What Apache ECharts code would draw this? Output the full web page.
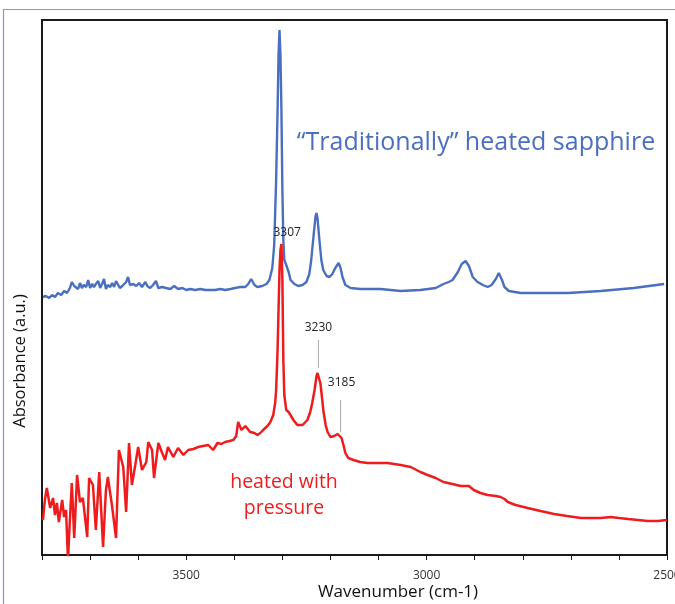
<!DOCTYPE html>
<html>
<head>
<meta charset="utf-8">
<script src="https://cdn.jsdelivr.net/npm/echarts@6/dist/echarts.min.js"></script>
<style>
html,body{margin:0;padding:0;background:#fff;overflow:hidden;}
#chart{width:675px;height:604px;}
</style>
</head>
<body>
<div id="chart"></div>
<script>
// ---- data (wavenumber, cm-1 / absorbance, a.u.) ----
const blueWn = [
 3798,3792,3785,3779,3773,3767,3760,3754,3748,3742,
 3738,3733,3729,3725,3721,3717,3713,3708,3704,3700,
 3696,3692,3688,3683,3679,3675,3671,3667,3663,3658,
 3654,3650,3646,3642,3638,3633,3629,3625,3621,3617,
 3610,3604,3598,3592,3585,3581,3575,3569,3563,3558,
 3550,3542,3533,3525,3517,3508,3500,3492,3481,3471,
 3460,3450,3440,3429,3419,3408,3398,3388,3377,3371,
 3365,3358,3352,3342,3333,3327,3321,3317,3313,3310,
 3308,3306,3304,3302,3300,3298,3296,3292,3287,3283,
 3275,3267,3258,3250,3244,3240,3235,3231,3229,3227,
 3223,3219,3215,3208,3202,3196,3190,3183,3179,3175,
 3169,3158,3138,3096,3054,3013,2981,2965,2954,2946,
 2935,2927,2919,2912,2904,2894,2883,2873,2865,2856,
 2850,2844,2838,2829,2804,2763,2706,2638,2569,2506
];
const blueAbs = [
 2.58,2.59,2.57,2.60,2.58,2.62,2.60,2.64,2.62,2.67,
 2.73,2.69,2.71,2.66,2.72,2.67,2.70,2.68,2.75,2.67,
 2.71,2.68,2.71,2.74,2.67,2.71,2.76,2.66,2.70,2.68,
 2.72,2.68,2.74,2.76,2.67,2.69,2.68,2.73,2.78,2.70,
 2.71,2.69,2.72,2.68,2.73,2.69,2.67,2.70,2.74,2.67,
 2.68,2.67,2.66,2.69,2.66,2.67,2.65,2.66,2.65,2.66,
 2.65,2.65,2.65,2.66,2.65,2.66,2.67,2.68,2.68,2.71,
 2.76,2.70,2.68,2.69,2.71,2.75,2.87,3.10,3.75,4.45,
 5.00,5.25,5.00,4.45,3.65,3.15,2.95,2.90,2.83,2.75,
 2.71,2.69,2.70,2.73,2.81,2.95,3.20,3.39,3.42,3.37,
 3.15,2.95,2.85,2.79,2.78,2.81,2.87,2.92,2.87,2.78,
 2.70,2.67,2.66,2.66,2.64,2.65,2.67,2.71,2.73,2.75,
 2.83,2.91,2.94,2.89,2.78,2.73,2.70,2.68,2.70,2.76,
 2.82,2.76,2.68,2.64,2.62,2.62,2.62,2.64,2.67,2.71
];
const redWn = [
 3798,3794,3790,3783,3777,3773,3769,3765,3758,3754,
 3750,3746,3742,3738,3733,3727,3721,3715,3706,3702,
 3694,3688,3681,3673,3667,3663,3654,3646,3640,3631,
 3625,3619,3613,3606,3600,3592,3583,3579,3571,3567,
 3558,3550,3544,3538,3527,3517,3506,3496,3485,3475,
 3465,3454,3444,3435,3427,3419,3410,3402,3396,3392,
 3385,3381,3377,3373,3367,3358,3352,3346,3340,3331,
 3325,3319,3315,3313,3310,3308,3306,3304,3302,3300,
 3298,3296,3292,3287,3283,3277,3269,3258,3248,3242,
 3238,3233,3229,3227,3225,3221,3217,3215,3210,3206,
 3200,3192,3185,3181,3177,3173,3169,3163,3152,3138,
 3123,3096,3081,3054,3033,3013,2998,2981,2965,2946,
 2929,2919,2912,2902,2888,2873,2856,2846,2838,2831,
 2815,2790,2763,2735,2708,2679,2658,2638,2617,2600,
 2581,2560,2540,2519,2500
];
const redAbs = [
 0.35,0.55,0.67,0.47,0.57,0.40,0.52,0.33,0.55,0.38,
 0.45,-0.05,0.35,0.72,0.17,0.80,0.53,0.57,0.18,0.77,
 0.70,0.25,0.83,0.08,0.65,0.78,0.48,0.17,1.05,0.88,
 0.43,1.12,0.70,0.90,1.08,0.85,0.93,1.13,1.05,0.77,
 1.12,1.02,0.95,1.08,0.98,1.07,1.00,1.05,1.06,1.08,
 1.09,1.10,1.05,1.12,1.11,1.13,1.14,1.15,1.19,1.33,
 1.25,1.23,1.29,1.28,1.23,1.22,1.20,1.22,1.25,1.29,
 1.33,1.40,1.52,1.65,2.05,2.45,2.85,3.05,3.11,2.75,
 1.95,1.60,1.45,1.43,1.41,1.35,1.30,1.30,1.35,1.43,
 1.52,1.65,1.79,1.82,1.80,1.72,1.55,1.45,1.30,1.23,
 1.18,1.19,1.21,1.21,1.17,1.10,1.02,0.97,0.95,0.93,
 0.92,0.92,0.92,0.90,0.88,0.83,0.80,0.77,0.73,0.71,
 0.69,0.69,0.69,0.65,0.62,0.60,0.59,0.58,0.56,0.53,
 0.50,0.47,0.44,0.41,0.39,0.37,0.37,0.37,0.38,0.37,
 0.36,0.35,0.34,0.34,0.35
];
const xTickLabels = [3500, 3000, 2500];
const peakLabels = [
  {text: '3307', wn: 3290, abs: 3.22},
  {text: '3230', wn: 3225, abs: 2.27},
  {text: '3185', wn: 3177, abs: 1.72}
];
const peakLines = [
  {wn: 3225, from: 2.15, to: 1.87},
  {wn: 3179, from: 1.55, to: 1.23}
];

const FONT = '"Open Sans", sans-serif';
const chart = echarts.init(document.getElementById('chart'), null, {renderer: 'canvas'});

const option = {
  backgroundColor: '#ffffff',
  animation: false,
  grid: {left: 42, right: 8, top: 20, bottom: 49, show: true, borderColor: '#1a1a1a', borderWidth: 2,
         backgroundColor: 'transparent', containLabel: false, outerBoundsMode: 'none'},
  xAxis: {
    type: 'value', inverse: true, min: 2500, max: 3800, interval: 100,
    axisLine: {show: true, onZero: false, lineStyle: {color: '#1a1a1a', width: 2}},
    axisTick: {show: true, inside: false, length: 5, lineStyle: {color: '#1a1a1a', width: 1}},
    axisLabel: {
      margin: 15, color: '#333', fontSize: 12, fontFamily: FONT, hideOverlap: false,
      formatter: v => xTickLabels.indexOf(v) >= 0 ? String(v) : ''
    },
    splitLine: {show: false}
  },
  yAxis: {
    type: 'value', min: 0, max: 5.35,
    axisLine: {show: false}, axisTick: {show: false}, axisLabel: {show: false}, splitLine: {show: false}
  },
  series: [
    {
      type: 'line', name: 'traditional', showSymbol: false, symbol: 'none', clip: true,
      lineStyle: {color: '#4a6fc0', width: 2.4},
      data: blueWn.map((w, i) => [w, blueAbs[i]])
    },
    {
      type: 'line', name: 'pressure', showSymbol: false, symbol: 'none', clip: true,
      lineStyle: {color: '#ee1c1c', width: 2.5},
      data: redWn.map((w, i) => [w, redAbs[i]])
    }
  ]
};
chart.setOption(option);

const px = (w, a) => chart.convertToPixel({gridIndex: 0}, [w, a]);
const graphics = [
  // outer frame
  {type: 'line', shape: {x1: 3, y1: 9.5, x2: 675, y2: 9.5}, style: {stroke: '#8a94cc', lineWidth: 1.2}},
  {type: 'line', shape: {x1: 3.5, y1: 9, x2: 3.5, y2: 604}, style: {stroke: '#8a94cc', lineWidth: 1.2}},
  // axis titles
  {type: 'text', x: 20, y: 361, rotation: Math.PI / 2,
   style: {text: 'Absorbance (a.u.)', font: '16.5px ' + FONT, fill: '#111', align: 'center', verticalAlign: 'middle'}},
  {type: 'text', x: 398, y: 592,
   style: {text: 'Wavenumber (cm-1)', font: '17px ' + FONT, fill: '#111', align: 'center', verticalAlign: 'middle'}},
  // series labels
  {type: 'text', x: 476, y: 143,
   style: {text: '\u201CTraditionally\u201D heated sapphire', font: '25px ' + FONT, fill: '#4a6fc0', align: 'center', verticalAlign: 'middle'}},
  {type: 'text', x: 284, y: 482,
   style: {text: 'heated with', font: '19.5px ' + FONT, fill: '#ee1c1c', align: 'center', verticalAlign: 'middle'}},
  {type: 'text', x: 284, y: 508,
   style: {text: 'pressure', font: '19.5px ' + FONT, fill: '#ee1c1c', align: 'center', verticalAlign: 'middle'}}
];
peakLines.forEach(l => {
  const p1 = px(l.wn, l.from), p2 = px(l.wn, l.to);
  graphics.push({type: 'line', shape: {x1: p1[0], y1: p1[1], x2: p2[0], y2: p2[1]}, style: {stroke: '#aaaaaa', lineWidth: 1}});
});
peakLabels.forEach(l => {
  const p = px(l.wn, l.abs);
  graphics.push({type: 'text', x: p[0], y: p[1], z: 10,
    style: {text: l.text, font: '12px ' + FONT, fill: '#222', align: 'center', verticalAlign: 'middle'}});
});
chart.setOption({graphic: graphics});
</script>
</body>
</html>
